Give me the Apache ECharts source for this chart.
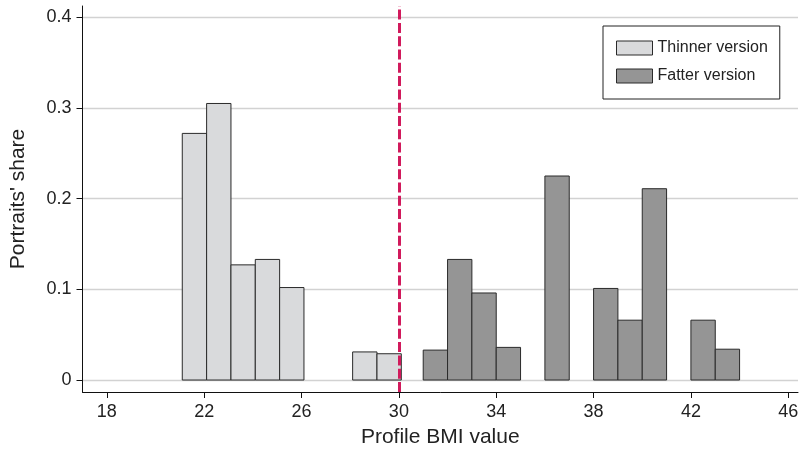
<!DOCTYPE html>
<html>
<head>
<meta charset="utf-8">
<script src="https://cdn.jsdelivr.net/npm/echarts@6/dist/echarts.min.js"></script>
<style>html,body{margin:0;padding:0;background:#fff}#c{width:799px;height:450px}</style>
</head>
<body>
<div id="c"></div>
<script>
// Data
const binWidth = 1;
const thinnerStart = [21.1, 22.1, 23.1, 24.1, 25.1, 28.1, 29.1];
const thinnerShare = [0.272, 0.305, 0.127, 0.133, 0.102, 0.031, 0.029];
const fatterStart = [31, 32, 33, 34, 36, 38, 39, 40, 42, 43];
const fatterShare = [0.033, 0.133, 0.096, 0.036, 0.225, 0.101, 0.066, 0.211, 0.066, 0.034];
const xTicks = [18, 22, 26, 30, 34, 38, 42, 46];
const yTicks = [0, 0.1, 0.2, 0.3, 0.4];
const cutoff = 30;

const FONT = '"Liberation Sans", Arial, Helvetica, sans-serif';
const thinColor = '#d9dadc';
const fatColor = '#959595';
const edge = '#2a2a2a';

function toItems(starts, shares) {
  return starts.map((s, i) => [s, s + binWidth, shares[i]]);
}
function renderBar(params, api) {
  const p0 = api.coord([api.value(0), api.value(2)]);
  const p1 = api.coord([api.value(1), 0]);
  return {
    type: 'rect',
    shape: { x: p0[0], y: p0[1], width: p1[0] - p0[0], height: p1[1] - p0[1] },
    style: api.style()
  };
}

const chart = echarts.init(document.getElementById('c'), null, { renderer: 'canvas' });
chart.setOption({
  animation: false,
  backgroundColor: '#fff',
  textStyle: { fontFamily: FONT },
  grid: { left: 82.5, right: 1, top: 6, bottom: 58, containLabel: false, outerBoundsMode: 'none' },
  legend: {
    orient: 'vertical',
    left: 603, top: 26,
    padding: [14, 12, 15, 13],
    itemWidth: 36, itemHeight: 14, itemGap: 12,
    borderColor: '#222', borderWidth: 1,
    textStyle: { fontSize: 16, color: '#222', fontFamily: FONT },
    data: [
      { name: 'Thinner version', icon: 'rect', itemStyle: { color: thinColor, borderColor: edge, borderWidth: 1 } },
      { name: 'Fatter version', icon: 'rect', itemStyle: { color: fatColor, borderColor: edge, borderWidth: 1 } }
    ]
  },
  xAxis: {
    type: 'value', min: 17, max: 46.4,
    name: 'Profile BMI value', nameLocation: 'middle', nameGap: 35,
    nameTextStyle: { fontSize: 21, color: '#222', fontFamily: FONT },
    axisLine: { show: true, onZero: false, lineStyle: { color: '#111', width: 1 } },
    axisTick: { show: true, length: 6, lineStyle: { color: '#111' }, customValues: xTicks },
    axisLabel: { fontSize: 18, color: '#222', margin: 11, customValues: xTicks, fontFamily: FONT },
    splitLine: { show: false }
  },
  yAxis: {
    type: 'value', min: -0.0132, max: 0.4125,
    name: "Portraits' share", nameLocation: 'middle', nameGap: 54, nameRotate: 90,
    nameTextStyle: { fontSize: 21, color: '#222', fontFamily: FONT },
    axisLine: { show: true, onZero: false, lineStyle: { color: '#111', width: 1 } },
    axisTick: { show: true, length: 6, lineStyle: { color: '#111' }, customValues: yTicks },
    axisLabel: { fontSize: 18, color: '#222', margin: 11, customValues: yTicks, fontFamily: FONT,
      formatter: v => (v === 0 ? '0' : String(Math.round(v * 10) / 10)) },
    splitLine: { show: true, lineStyle: { color: '#d2d2d2', width: 1.3 } }
  },
  series: [
    {
      name: 'Thinner version', type: 'custom', renderItem: renderBar,
      encode: { x: [0, 1], y: 2 },
      itemStyle: { color: thinColor, borderColor: edge, borderWidth: 1 },
      data: toItems(thinnerStart, thinnerShare),
      z: 3,
      markLine: {
        symbol: 'none', silent: true, label: { show: false },
        lineStyle: { color: '#d11a5c', width: 3, type: [10, 3.3] },
        data: [{ xAxis: cutoff }],
        z: 5
      }
    },
    {
      name: 'Fatter version', type: 'custom', renderItem: renderBar,
      encode: { x: [0, 1], y: 2 },
      itemStyle: { color: fatColor, borderColor: edge, borderWidth: 1 },
      data: toItems(fatterStart, fatterShare),
      z: 3
    }
  ]
});
</script>
</body>
</html>
